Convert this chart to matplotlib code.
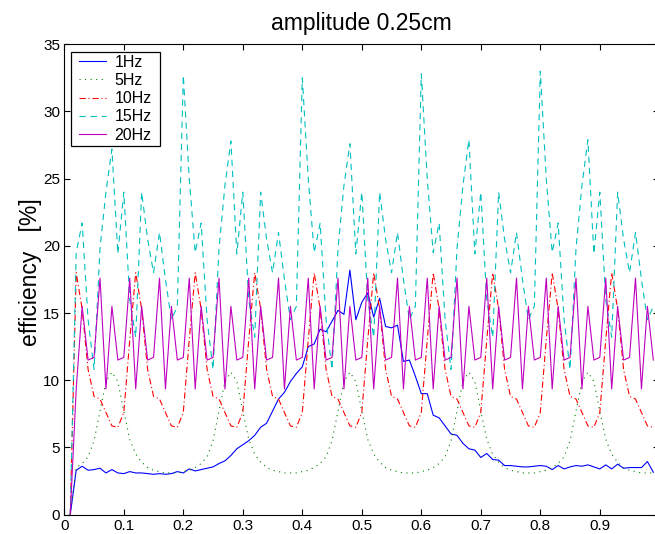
import numpy as np
import matplotlib
matplotlib.use("Agg")
import matplotlib.pyplot as plt
from matplotlib.patches import Rectangle
from matplotlib.transforms import IdentityTransform

plt.rcParams['font.family'] = ['Liberation Sans', 'DejaVu Sans']
plt.rcParams['lines.scale_dashes'] = False

x = np.arange(1, 100) / 100.0

eff_1hz = [0, 3.3, 3.6, 3.3, 3.35, 3.45, 3.1, 3.35, 3.1, 3.05,
           3.2, 3.1, 3.1, 3.05, 3.0, 3.05, 3.0, 3.05, 3.2, 3.1,
           3.4, 3.25, 3.35, 3.45, 3.55, 3.8, 4.0, 4.4, 4.9, 5.2,
           5.5, 5.9, 6.5, 6.8, 7.7, 8.6, 9.1, 9.9, 10.5, 11.0,
           12.5, 12.7, 13.8, 13.6, 14.4, 15.2, 14.9, 18.2, 14.5, 15.8,
           16.5, 14.7, 16.1, 14.0, 13.9, 14.1, 11.4, 11.5, 10.3, 9.0,
           9.0, 7.4, 7.2, 6.6, 6.0, 5.9, 5.3, 4.9, 4.8, 4.25,
           4.55, 4.1, 4.05, 3.65, 3.65, 3.6, 3.55, 3.55, 3.6, 3.65,
           3.6, 3.35, 3.65, 3.4, 3.55, 3.65, 3.6, 3.7, 3.55, 3.4,
           3.7, 3.4, 3.75, 3.45, 3.5, 3.5, 3.5, 3.95, 3.15]

eff_5hz = [0, 3.5, 3.8, 4.3, 5.5, 7.7, 9.9, 10.6, 9.9, 7.7,
           5.6, 4.5, 3.9, 3.5, 3.3, 3.2, 3.1,
           3.1, 3.1, 3.2, 3.3, 3.5, 3.8, 4.3, 5.5, 7.7, 9.9,
           10.6, 9.9, 7.7, 5.6, 4.5, 3.9, 3.5, 3.3, 3.2, 3.1,
           3.1, 3.1, 3.2, 3.3, 3.5, 3.8, 4.3, 5.5, 7.7, 9.9,
           10.6, 9.9, 7.7, 5.6, 4.5, 3.9, 3.5, 3.3, 3.2, 3.1,
           3.1, 3.1, 3.2, 3.3, 3.5, 3.8, 4.3, 5.5, 7.7, 9.9,
           10.6, 9.9, 7.7, 5.6, 4.5, 3.9, 3.5, 3.3, 3.2, 3.1,
           3.1, 3.1, 3.2, 3.3, 3.5, 3.8, 4.3, 5.5, 7.7, 9.9,
           10.6, 9.9, 7.7, 5.6, 4.5, 3.9, 3.5, 3.3, 3.2, 3.1,
           3.1, 3.1]

eff_10hz = [0,
            18.0, 15.3, 10.8, 8.8, 8.6, 7.6, 6.6, 6.5, 7.6, 13.0,
            18.0, 15.3, 10.8, 8.8, 8.6, 7.6, 6.6, 6.5, 7.6, 13.0,
            18.0, 15.3, 10.8, 8.8, 8.6, 7.6, 6.6, 6.5, 7.6, 13.0,
            18.0, 15.3, 10.8, 8.8, 8.6, 7.6, 6.6, 6.5, 7.6, 13.0,
            18.0, 15.3, 10.8, 8.8, 8.6, 7.6, 6.6, 6.5, 7.6, 13.0,
            18.0, 15.3, 10.8, 8.8, 8.6, 7.6, 6.6, 6.5, 7.6, 13.0,
            18.0, 15.3, 10.8, 8.8, 8.6, 7.6, 6.6, 6.5, 7.6, 13.0,
            18.0, 15.3, 10.8, 8.8, 8.6, 7.6, 6.6, 6.5, 7.6, 13.0,
            18.0, 15.3, 10.8, 8.8, 8.6, 7.6, 6.6, 6.5, 7.6, 13.0,
            18.0, 15.3, 10.8, 8.8, 8.6, 7.6, 6.6, 6.5]

eff_15hz = [0, 19.5,
            21.7, 14.5, 10.8, 19.8, 24.0, 27.2, 19.4, 24.0, 16.0, 13.2,
            24.0, 20.5, 18.0, 21.0, 17.5, 14.5, 15.5,
            32.7, 25.0, 19.5, 21.7, 14.5, 10.8, 19.8, 24.5, 27.8, 19.4,
            24.0, 16.0, 13.2, 24.0, 20.5, 18.0, 21.0, 17.5, 14.5, 15.5,
            32.5, 25.0, 19.5, 21.7, 14.5, 10.8, 19.8, 24.5, 27.6, 19.4,
            24.0, 16.0, 13.2, 24.0, 20.5, 18.0, 21.0, 17.5, 14.5, 15.5,
            32.8, 25.0, 19.5, 21.7, 14.5, 10.8, 19.8, 24.5, 27.9, 19.4,
            24.0, 16.0, 13.2, 24.0, 20.5, 18.0, 21.0, 17.5, 14.5, 15.5,
            33.0, 25.0, 19.5, 21.7, 14.5, 10.8, 19.8, 24.5, 27.9, 19.4,
            24.0, 16.0, 13.2, 24.0, 20.5, 18.0, 21.0, 17.5, 14.5, 15.5]

eff_20hz = [0,
            9.35, 15.5, 11.5, 11.7, 17.6, 9.35, 15.5, 11.5, 11.7, 17.6,
            9.35, 15.5, 11.5, 11.7, 17.6, 9.35, 15.5, 11.5, 11.7, 17.6,
            9.35, 15.5, 11.5, 11.7, 17.6, 9.35, 15.5, 11.5, 11.7, 17.6,
            9.35, 15.5, 11.5, 11.7, 17.6, 9.35, 15.5, 11.5, 11.7, 17.6,
            9.35, 15.5, 11.5, 11.7, 17.6, 9.35, 15.5, 11.5, 11.7, 17.6,
            9.35, 15.5, 11.5, 11.7, 17.6, 9.35, 15.5, 11.5, 11.7, 17.6,
            9.35, 15.5, 11.5, 11.7, 17.6, 9.35, 15.5, 11.5, 11.7, 17.6,
            9.35, 15.5, 11.5, 11.7, 17.6, 9.35, 15.5, 11.5, 11.7, 17.6,
            9.35, 15.5, 11.5, 11.7, 17.6, 9.35, 15.5, 11.5, 11.7, 17.6,
            9.35, 15.5, 11.5, 11.7, 17.6,
            9.35, 15.5, 11.5]

labels = ['1Hz', '5Hz', '10Hz', '15Hz', '20Hz']
xticks = [0, 0.1, 0.2, 0.3, 0.4, 0.5, 0.6, 0.7, 0.8, 0.9]
xticklabels = ['0', '0.1', '0.2', '0.3', '0.4', '0.5', '0.6', '0.7', '0.8', '0.9']
yticks = [0, 5, 10, 15, 20, 25, 30, 35]

W, H = 655, 534
fig = plt.figure(figsize=(W / 100, H / 100), dpi=100)
ax = fig.add_axes([64.3 / W, 19.4 / H, 595 / W, 470.3 / H])

lw = 0.8
ax.plot(x, eff_1hz, color=(0, 0, 1), lw=lw, ls='-', label=labels[0])
ax.plot(x, eff_5hz, color=(0, 0.5, 0), lw=lw, dashes=(0.8, 3.2), label=labels[1])
ax.plot(x, eff_10hz, color=(1, 0, 0), lw=lw, dashes=(4.5, 2.0, 0.8, 2.0), label=labels[2])
ax.plot(x, eff_15hz, color=(0, 0.75, 0.75), lw=lw, dashes=(4.5, 3.5), label=labels[3])
ax.plot(x, eff_20hz, color=(0.75, 0, 0.75), lw=lw, ls='-', label=labels[4])

ax.set_xlim(0, 1)
ax.set_ylim(0, 35)
ax.set_xticks(xticks)
ax.set_xticklabels(xticklabels)
ax.set_yticks(yticks)
ax.tick_params(direction='in', length=4, width=0.8, top=True, right=True,
               labelsize=11, pad=3)
for s in ax.spines.values():
    s.set_linewidth(0.8)

ax.set_title('amplitude 0.25cm', fontsize=16.5, pad=10)
ax.set_ylabel('efficiency   [%]', fontsize=16.5)
ax.yaxis.set_label_coords(-0.038, 0.515)

leg = ax.legend(loc='upper left', bbox_to_anchor=(0.0197, 0.9843),
                fontsize=11.5, frameon=False, borderpad=0.2,
                labelspacing=0.2, handlelength=1.65, handletextpad=0.55,
                borderaxespad=0.0)
leg.set_zorder(5)

fig.canvas.draw()
bb = leg.get_window_extent(fig.canvas.get_renderer())
padx = 5.0
frame = Rectangle((bb.x0 - padx, bb.y0), bb.width + 2 * padx, bb.height,
                  transform=IdentityTransform(), facecolor='white',
                  edgecolor='black', linewidth=0.9, zorder=4.9, clip_on=False)
ax.add_patch(frame)

fig.savefig('out.png', dpi=100)
